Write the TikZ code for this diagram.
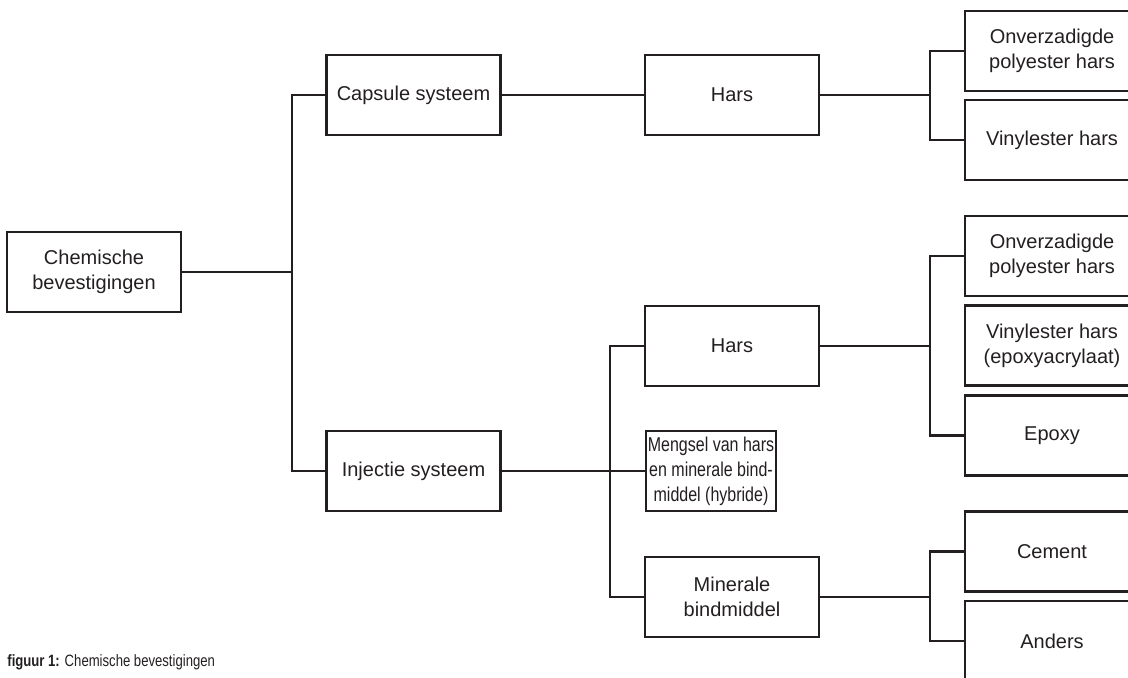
\documentclass[tikz,border=0pt]{standalone}
\usepackage{fontspec}
\setmainfont{Liberation Sans}
\usepackage{tikz}
\usetikzlibrary{positioning}
\definecolor{chink}{HTML}{231F20}
\tikzset{
  every picture/.style={line cap=butt, line join=miter},
  box/.style={draw=chink, line width=1.25pt, minimum width=87pt, minimum height=40pt,
    inner sep=0pt, outer sep=0pt, align=center, text=chink,
    font=\fontsize{10}{12.5}\selectfont},
  link/.style={draw=chink, line width=1.25pt},
}

\begin{document}
\begin{tikzpicture}[x=0.5pt, y=-0.5pt]
\useasboundingbox (0,0) rectangle (1128,677);
\clip (0,0) rectangle (1128,677);
% root and systems
\node[box] (chem) at (94,272) {Chemische\\bevestigingen};
\node[box] (caps) at (413.5,95) {Capsule systeem};
\node[box] (inj) at (413.5,471) {Injectie systeem};
% binders
\node[box] (hars1) at (732,95) {Hars};
\node[box] (hars2) at (732,346) {Hars};
\node[box, minimum width=65pt] (meng) at (711,471)
  {\scalebox{0.8}[1]{\begin{tabular}{@{}c@{}}Mengsel van hars\\en minerale bind-\\middel (hybride)\end{tabular}}};
\node[box] (mine) at (732,597) {Minerale\\bindmiddel};
% kinds, cut off at the right edge
\node[box] (cup) at (1052,51) {Onverzadigde\\polyester hars};
\node[box] (cvin) at (1052,140) {Vinylester hars};
\node[box] (iup) at (1052,256) {Onverzadigde\\polyester hars};
\node[box] (ivin) at (1052,345.5) {Vinylester hars\\(epoxyacrylaat)};
\node[box] (iepo) at (1052,435.5) {Epoxy};
\node[box] (cem) at (1052,551.5) {Cement};
\node[box] (anders) at (1052,641) {Anders};
% junctions
\coordinate (j1) at (292,272);
\coordinate (j2) at (930,95);
\coordinate (j3) at (610,471);
\coordinate (j4) at (930,346);
\coordinate (j5) at (930,597);
% connectors
\draw[link] (chem) -- (j1);
\draw[link] (caps) -| (j1) |- (inj);
\draw[link] (caps) -- (hars1);
\draw[link] (hars1) -- (j2);
\draw[link] (cup) -| (j2) |- (cvin);
\draw[link] (inj) -- (j3) -- (meng);
\draw[link] (hars2) -| (j3) |- (mine);
\draw[link] (hars2) -- (j4);
\draw[link] (iup) -| (j4) |- (iepo);
\draw[link] (mine) -- (j5);
\draw[link] (cem) -| (j5) |- (anders);
% caption
\node[anchor=base west, inner sep=0pt, text=chink] (caption) at (7,666)
  {\scalebox{0.8}[1]{\fontsize{8.2}{10}\selectfont\textbf{figuur 1:} Chemische bevestigingen}};
\end{tikzpicture}
\end{document}
